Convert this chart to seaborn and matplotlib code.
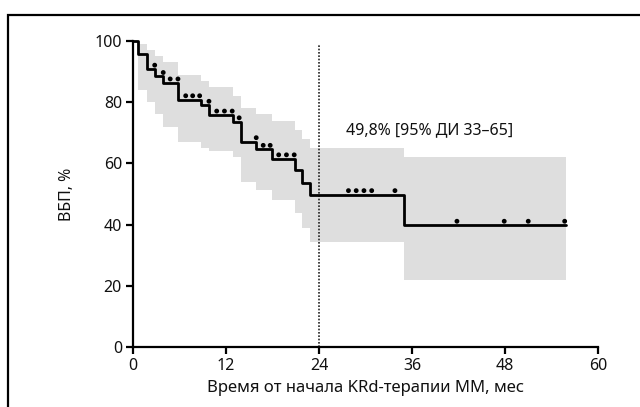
import matplotlib
matplotlib.use("Agg")
import matplotlib.pyplot as plt
import seaborn as sns
import pandas as pd
from matplotlib.patches import Rectangle

# Kaplan-Meier step curve (time in months, survival %)
step_time = [0, 0.7, 1.8, 2.8, 3.9, 5.8, 8.8, 9.8, 12.9, 13.9, 15.9, 17.9, 20.9, 21.8, 22.8, 35.0, 55.9]
step_surv = [100, 95.6, 90.8, 88.4, 86.3, 80.8, 79.0, 75.8, 73.6, 67.1, 64.6, 61.5, 57.9, 53.7, 49.8, 39.8, 39.8]
ci_low = [100, 84, 80, 76, 72, 67, 65, 64, 62, 54, 51.3, 48, 43.8, 38.9, 34.4, 22, 22]
ci_high = [100, 99, 97, 95, 93, 89, 87, 85, 82, 78, 76, 74, 71, 68, 65, 62, 62]

# censored observations
cens_time = [2.8, 3.9, 4.8, 5.8, 6.8, 7.7, 8.6, 9.8, 10.8, 11.8, 12.8, 13.7, 15.9, 16.8, 17.7,
             18.8, 19.8, 20.8, 27.8, 28.8, 29.8, 30.8, 33.8, 41.8, 47.9, 51.0, 55.7]
cens_surv = [90.8, 88.4, 86.3, 86.3, 80.8, 80.8, 80.8, 79.0, 75.8, 75.8, 75.8, 73.6, 67.1, 64.6, 64.6,
             61.5, 61.5, 61.5, 49.8, 49.8, 49.8, 49.8, 49.8, 39.8, 39.8, 39.8, 39.8]

x_ticks = [0, 12, 24, 36, 48, 60]
y_ticks = [0, 20, 40, 60, 80, 100]
annotation = "49,8% [95% ДИ 33–65]"
x_label = "Время от начала KRd-терапии ММ, мес"
y_label = "ВБП, %"
landmark = 24

sns.set_theme(style="ticks")
plt.rcParams["font.family"] = ["Noto Sans", "DejaVu Sans"]

fig = plt.figure(figsize=(6.4, 4.07), dpi=100)
ax = fig.add_axes([133/640, 1-347/407, (598-133)/640, (347-41)/407])

df = pd.DataFrame({"t": step_time, "s": step_surv, "lo": ci_low, "hi": ci_high})
ax.fill_between(df["t"], df["lo"], df["hi"], step="post", color="#dedede", lw=0, zorder=1)
sns.lineplot(data=df, x="t", y="s", drawstyle="steps-post", color="black", lw=2.0,
             ax=ax, zorder=3, estimator=None, clip_on=False)

cdf = pd.DataFrame({"t": cens_time, "s": [v + 1.3 for v in cens_surv]})
sns.scatterplot(data=cdf, x="t", y="s", color="black", s=12, edgecolor="none", ax=ax, zorder=4)

ax.axvline(landmark, ymin=0, ymax=0.99, color="#222222", ls=(0, (1.0, 1.0)), lw=1.2, zorder=2)

ax.text(38.3, 71, annotation, ha="center", va="center", fontsize=11.5, color="#111111")

ax.set_xlim(0, 60)
ax.set_ylim(0, 100)
ax.set_xticks(x_ticks)
ax.set_yticks(y_ticks)
ax.tick_params(axis="both", direction="out", length=5, width=1.6, color="black",
               labelsize=11.5, labelcolor="#111111", pad=3)
for sp in ["top", "right"]:
    ax.spines[sp].set_visible(False)
for sp in ["left", "bottom"]:
    ax.spines[sp].set_linewidth(1.6)
    ax.spines[sp].set_color("black")
ax.set_xlabel(x_label, fontsize=12, color="#111111", labelpad=4)
ax.set_ylabel(y_label, fontsize=11.5, color="#111111", labelpad=14)

fig.patches.append(Rectangle((8/640, -0.1), 1.2, (407-15)/407 + 0.1, transform=fig.transFigure,
                             fill=False, edgecolor="black", lw=1.6))

fig.savefig("out.png", dpi=100)
